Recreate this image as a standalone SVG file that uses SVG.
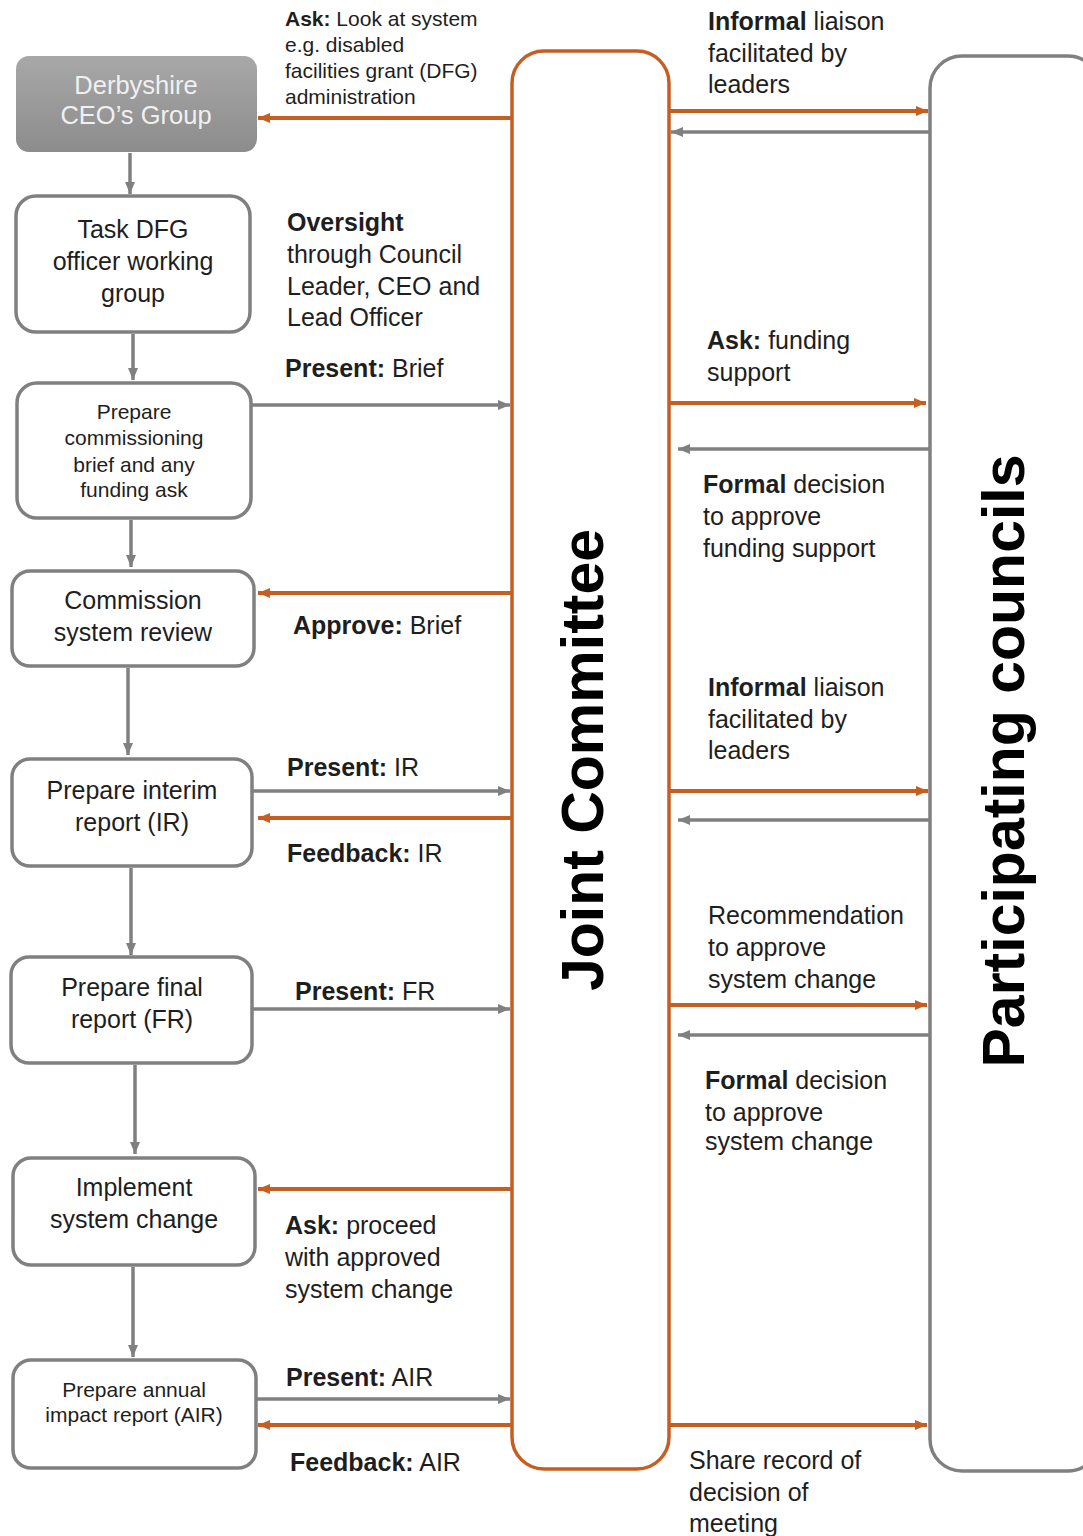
<svg xmlns="http://www.w3.org/2000/svg" width="1083" height="1536" viewBox="0 0 1083 1536">
<style>
text{font-family:"Liberation Sans",Arial,sans-serif;fill:#1e1e1e}
.t24{font-size:25px}
.t19{font-size:21px}
.b{font-weight:bold}
.c{text-anchor:middle}
.box{fill:#fff;stroke:#808080;stroke-width:3.5}
.g{stroke:#808080;stroke-width:3.5;fill:none;marker-end:url(#ag)}
.o{stroke:#c65d21;stroke-width:4;fill:none;marker-end:url(#ao)}
.big{font-size:59px;font-weight:bold;fill:#000}
</style>
<defs>
<marker id="ag" viewBox="0 0 12 10" refX="12" refY="5" markerWidth="12" markerHeight="10" orient="auto" markerUnits="userSpaceOnUse"><path d="M0,0L12,5L0,10z" fill="#808080"/></marker>
<marker id="ao" viewBox="0 0 12 10" refX="12" refY="5" markerWidth="12" markerHeight="10" orient="auto" markerUnits="userSpaceOnUse"><path d="M0,0L12,5L0,10z" fill="#c65d21"/></marker>
<linearGradient id="gr" x1="0" y1="0" x2="0" y2="1"><stop offset="0" stop-color="#a8a8a8"/><stop offset="1" stop-color="#8c8c8c"/></linearGradient>
</defs>
<rect width="1083" height="1536" fill="#fff"/>

<g id="joint-committee">
<rect x="512" y="51" width="157" height="1418" rx="32" fill="#fff" stroke="#c65d21" stroke-width="3.5"/>
<text class="big" transform="translate(603,760) rotate(-90)" text-anchor="middle">Joint Committee</text>
</g>
<g id="participating-councils">
<rect x="930" y="56" width="170" height="1415" rx="32" fill="#fff" stroke="#808080" stroke-width="3.5"/>
<text class="big" transform="translate(1024,761) rotate(-90)" text-anchor="middle">Participating councils</text>
</g>

<g id="derbyshire">
<rect x="16" y="56" width="241" height="96" rx="13" fill="url(#gr)"/>
<text class="c" x="136" y="94" style="fill:#f0f0f0;font-size:25.5px">Derbyshire</text>
<text class="c" x="136" y="124" style="fill:#f0f0f0;font-size:25.5px">CEO’s Group</text>
</g>
<g id="task-dfg">
<rect class="box" x="16" y="196" width="234" height="136" rx="20"/>
<text class="t24 c" x="133" y="238">Task DFG</text>
<text class="t24 c" x="133" y="270">officer working</text>
<text class="t24 c" x="133" y="302">group</text>
</g>
<g id="prepare-brief">
<rect class="box" x="17" y="383" width="234" height="135" rx="20"/>
<text class="t19 c" x="134" y="419">Prepare</text>
<text class="t19 c" x="134" y="445">commissioning</text>
<text class="t19 c" x="134" y="472">brief and any</text>
<text class="t19 c" x="134" y="497">funding ask</text>
</g>
<g id="commission">
<rect class="box" x="12" y="571" width="242" height="95" rx="18"/>
<text class="t24 c" x="133" y="609">Commission</text>
<text class="t24 c" x="133" y="641">system review</text>
</g>
<g id="interim">
<rect class="box" x="12" y="759" width="240" height="107" rx="18"/>
<text class="t24 c" x="132" y="799">Prepare interim</text>
<text class="t24 c" x="132" y="831">report (IR)</text>
</g>
<g id="final">
<rect class="box" x="11" y="957" width="241" height="106" rx="18"/>
<text class="t24 c" x="132" y="996">Prepare final</text>
<text class="t24 c" x="132" y="1028">report (FR)</text>
</g>
<g id="implement">
<rect class="box" x="13" y="1158" width="242" height="107" rx="18"/>
<text class="t24 c" x="134" y="1196">Implement</text>
<text class="t24 c" x="134" y="1228">system change</text>
</g>
<g id="annual">
<rect class="box" x="13" y="1360" width="243" height="108" rx="18"/>
<text class="t19 c" x="134" y="1397">Prepare annual</text>
<text class="t19 c" x="134" y="1422">impact report (AIR)</text>
</g>

<g id="connectors">
<line class="g" x1="130" y1="153" x2="130" y2="194"/>
<line class="g" x1="133" y1="334" x2="133" y2="380"/>
<line class="g" x1="131" y1="520" x2="131" y2="567"/>
<line class="g" x1="128" y1="668" x2="128" y2="755"/>
<line class="g" x1="131" y1="868" x2="131" y2="955"/>
<line class="g" x1="135" y1="1065" x2="135" y2="1154"/>
<line class="g" x1="133" y1="1267" x2="133" y2="1357"/>

<line class="o" x1="512" y1="118" x2="258" y2="118"/>
<line class="g" x1="252" y1="405" x2="510" y2="405"/>
<line class="o" x1="512" y1="593" x2="258" y2="593"/>
<line class="g" x1="253" y1="791" x2="510" y2="791"/>
<line class="o" x1="512" y1="818" x2="258" y2="818"/>
<line class="g" x1="253" y1="1009" x2="510" y2="1009"/>
<line class="o" x1="512" y1="1189" x2="258" y2="1189"/>
<line class="g" x1="257" y1="1399" x2="510" y2="1399"/>
<line class="o" x1="512" y1="1425" x2="258" y2="1425"/>

<line class="o" x1="669" y1="111" x2="928" y2="111"/>
<line class="g" x1="930" y1="132" x2="671" y2="132"/>
<line class="o" x1="669" y1="403" x2="926" y2="403"/>
<line class="g" x1="930" y1="449" x2="678" y2="449"/>
<line class="o" x1="669" y1="791" x2="928" y2="791"/>
<line class="g" x1="930" y1="820" x2="678" y2="820"/>
<line class="o" x1="669" y1="1005" x2="927" y2="1005"/>
<line class="g" x1="930" y1="1035" x2="678" y2="1035"/>
<line class="o" x1="669" y1="1425" x2="927" y2="1425"/>
</g>

<g id="labels">
<text class="t19" x="285" y="26"><tspan class="b">Ask:</tspan> Look at system</text>
<text class="t19" x="285" y="52">e.g. disabled</text>
<text class="t19" x="285" y="78">facilities grant (DFG)</text>
<text class="t19" x="285" y="104">administration</text>

<text class="t24 b" x="287" y="231">Oversight</text>
<text class="t24" x="287" y="263">through Council</text>
<text class="t24" x="287" y="295">Leader, CEO and</text>
<text class="t24" x="287" y="326">Lead Officer</text>

<text class="t24" x="285" y="377"><tspan class="b">Present:</tspan> Brief</text>
<text class="t24" x="293" y="634"><tspan class="b">Approve:</tspan> Brief</text>
<text class="t24" x="287" y="776"><tspan class="b">Present:</tspan> IR</text>
<text class="t24" x="287" y="862"><tspan class="b">Feedback:</tspan> IR</text>
<text class="t24" x="295" y="1000"><tspan class="b">Present:</tspan> FR</text>
<text class="t24" x="285" y="1234"><tspan class="b">Ask:</tspan> proceed</text>
<text class="t24" x="285" y="1266">with approved</text>
<text class="t24" x="285" y="1298">system change</text>
<text class="t24" x="286" y="1386"><tspan class="b">Present:</tspan> AIR</text>
<text class="t24" x="290" y="1471"><tspan class="b">Feedback:</tspan> AIR</text>

<text class="t24" x="708" y="30"><tspan class="b">Informal</tspan> liaison</text>
<text class="t24" x="708" y="62">facilitated by</text>
<text class="t24" x="708" y="93">leaders</text>
<text class="t24" x="707" y="349"><tspan class="b">Ask:</tspan> funding</text>
<text class="t24" x="707" y="381">support</text>
<text class="t24" x="703" y="493"><tspan class="b">Formal</tspan> decision</text>
<text class="t24" x="703" y="525">to approve</text>
<text class="t24" x="703" y="557">funding support</text>
<text class="t24" x="708" y="696"><tspan class="b">Informal</tspan> liaison</text>
<text class="t24" x="708" y="728">facilitated by</text>
<text class="t24" x="708" y="759">leaders</text>
<text class="t24" x="708" y="924">Recommendation</text>
<text class="t24" x="708" y="956">to approve</text>
<text class="t24" x="708" y="988">system change</text>
<text class="t24" x="705" y="1089"><tspan class="b">Formal</tspan> decision</text>
<text class="t24" x="705" y="1121">to approve</text>
<text class="t24" x="705" y="1150">system change</text>
<text class="t24" x="689" y="1469">Share record of</text>
<text class="t24" x="689" y="1501">decision of</text>
<text class="t24" x="689" y="1532">meeting</text>
</g>
</svg>
